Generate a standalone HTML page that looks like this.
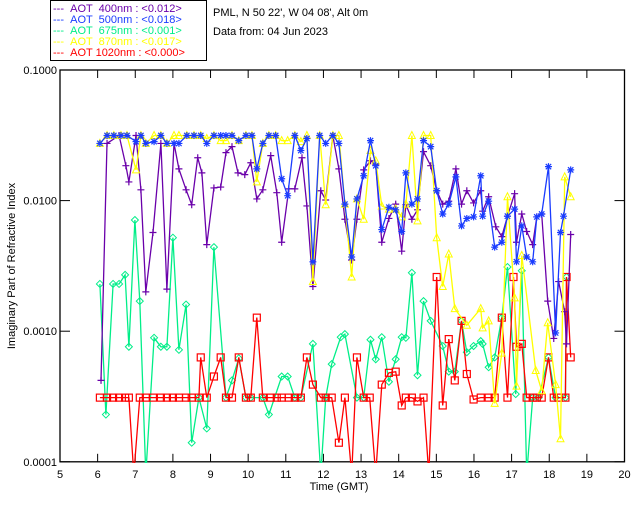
<!DOCTYPE html>
<html><head><meta charset="utf-8">
<style>
html,body{margin:0;padding:0;background:#fff;}
svg{display:block;font-family:"Liberation Sans",sans-serif;}
</style></head>
<body>
<svg id="chart" width="640" height="512" viewBox="0 0 640 512" xmlns="http://www.w3.org/2000/svg">
<rect x="0" y="0" width="640" height="512" fill="#fff"/>
<g>
<rect x="50.5" y="0.5" width="156" height="60" fill="none" stroke="#000"/>
<g font-size="11">
<text x="53" y="12" fill="#6a00aa">--- &#160;AOT &#160;400nm : &lt;0.012&gt;</text>
<text x="53" y="23" fill="#1a3cff">--- &#160;AOT &#160;500nm : &lt;0.018&gt;</text>
<text x="53" y="34" fill="#00ee88">--- &#160;AOT &#160;675nm : &lt;0.001&gt;</text>
<text x="53" y="45" fill="#ffff00">--- &#160;AOT &#160;870nm : &lt;0.017&gt;</text>
<text x="53" y="56" fill="#ff0000">--- &#160;AOT 1020nm : &lt;0.000&gt;</text>
</g></g>
<text x="213" y="16" font-size="11">PML, N 50 22', W 04 08', Alt 0m</text>
<text x="213" y="35" font-size="11">Data from: 04 Jun 2023</text>
<g id="axes"></g>
<g id="series" clip-path="url(#plotclip)"></g>
<defs><clipPath id="plotclip"><rect x="60" y="69" width="566" height="394"/></clipPath></defs>
<text x="339" y="490" font-size="11" text-anchor="middle">Time (GMT)</text>
<text transform="translate(15,266) rotate(-90)" font-size="11" text-anchor="middle">Imaginary Part of Refractive Index</text>
</svg>
<script>
const xTicks=[5,6,7,8,9,10,11,12,13,14,15,16,17,18,19,20];
const yTicks=[0.1,0.01,0.001,0.0001];
const yTickLabels=["0.1000","0.0100","0.0010","0.0001"];

const t500=[6.06,6.25,6.43,6.62,6.78,7.02,7.15,7.28,7.50,7.68,7.84,8.03,8.16,8.37,8.56,8.74,8.90,9.09,9.27,9.41,9.57,9.75,9.94,10.10,10.23,10.39,10.55,10.73,10.89,11.05,11.24,11.40,11.56,11.72,11.90,12.06,12.25,12.41,12.57,12.75,12.89,13.07,13.25,13.39,13.55,13.74,13.92,14.08,14.19,14.35,14.50,14.66,14.85,15.01,15.17,15.33,15.52,15.67,15.81,15.99,16.18,16.23,16.39,16.55,16.74,16.89,17.08,17.13,17.27,17.40,17.56,17.67,17.80,17.98,18.17,18.30,18.38,18.57];
const v500=[.0274,.0315,.0315,.0315,.0315,.0283,.0315,.0274,.0283,.0315,.0274,.0274,.0274,.0315,.0315,.0315,.0274,.0315,.0315,.0315,.0315,.0288,.0315,.0315,.0175,.0274,.0315,.0315,.0147,.0109,.0315,.0242,.0299,.0034,.0315,.0274,.0315,.0274,.0094,.0037,.0103,.0155,.0288,.0185,.0060,.0089,.0085,.0058,.0163,.0094,.0103,.0288,.0259,.0119,.0079,.0094,.0152,.0064,.0073,.0075,.0155,.0076,.0099,.0044,.0048,.0076,.0086,.0034,.0064,.0037,.0034,.0075,.0079,.0182,.00097,.0057,.0076,.0172];

const t870=[6.06,6.25,6.43,6.62,6.78,7.02,7.15,7.28,7.50,7.68,7.84,8.03,8.16,8.37,8.56,8.74,8.90,9.09,9.27,9.41,9.57,9.75,9.94,10.10,10.23,10.39,10.55,10.73,10.89,11.05,11.24,11.40,11.56,11.72,11.90,12.06,12.25,12.41,12.57,12.75,12.89,13.07,13.25,13.39,13.55,13.74,13.92,14.08,14.19,14.35,14.50,14.66,14.85,15.01,15.17,15.33,15.49,15.81,16.18,16.23,16.39,16.55,16.74,16.89,17.08,17.13,17.27,17.64,17.80,17.96,18.17,18.30,18.41,18.57];
const v870=[.0274,.0315,.0315,.0315,.0315,.0172,.0315,.0274,.0315,.0315,.0274,.0315,.0315,.0315,.0315,.0315,.0299,.0315,.0288,.0288,.0315,.0288,.0315,.0315,.0139,.0274,.0315,.0315,.0288,.0288,.0315,.0283,.0315,.0024,.0315,.0093,.0315,.0315,.0094,.0026,.0103,.0072,.0242,.0202,.0091,.0086,.0086,.0075,.0094,.0315,.0070,.0315,.0315,.0052,.0022,.0039,.00149,.00111,.00149,.00106,.00120,.00028,.00068,.0107,.0018,.00038,.0038,.00050,.00035,.00116,.00039,.00015,.0152,.0107];

const t400=[6.09,6.25,6.57,6.75,6.83,7.02,7.15,7.28,7.47,7.68,7.84,8.03,8.16,8.35,8.50,8.66,8.77,8.90,9.09,9.27,9.41,9.57,9.73,9.91,10.07,10.23,10.39,10.60,10.76,10.89,11.08,11.24,11.43,11.56,11.72,11.93,12.06,12.25,12.41,12.57,12.75,12.89,13.07,13.25,13.39,13.55,13.74,13.92,14.08,14.19,14.35,14.50,14.66,14.85,15.01,15.17,15.33,15.52,15.67,15.81,15.99,16.18,16.23,16.39,16.58,16.74,16.89,17.08,17.13,17.27,17.40,17.56,17.67,17.80,17.96,18.12,18.25,18.41,18.46,18.57];
const v400=[.00042,.0274,.0315,.0185,.0139,.0315,.0121,.0020,.0057,.0274,.0021,.0274,.0175,.0121,.0093,.0213,.0163,.0046,.0125,.0127,.0233,.0259,.0163,.0158,.0195,.0103,.0121,.0221,.0115,.0048,.0123,.0123,.0213,.0091,.0022,.0119,.0101,.0315,.0175,.0072,.0035,.0072,.0172,.0202,.0188,.0048,.0073,.0094,.0041,.0093,.0072,.0085,.0237,.0185,.0119,.0094,.0099,.0175,.0094,.0119,.0096,.0119,.0083,.0107,.0063,.0053,.0076,.0113,.0048,.0079,.0058,.0046,.0075,.0079,.0017,.00088,.0024,.00141,.00080,.0055];

const t675=[6.06,6.22,6.41,6.57,6.73,6.83,6.99,7.12,7.28,7.50,7.68,7.84,8.00,8.16,8.35,8.50,8.69,8.90,9.09,9.41,9.57,9.75,9.94,10.07,10.39,10.55,10.89,11.05,11.24,11.40,11.72,11.93,12.06,12.22,12.46,12.57,12.89,13.07,13.25,13.39,13.55,13.74,13.92,14.08,14.19,14.35,14.50,14.66,14.85,15.17,15.33,15.49,15.67,15.81,15.99,16.18,16.23,16.39,16.55,16.74,16.89,17.11,17.27,17.40,17.56,17.72,17.98,18.17,18.43,18.46];
const v675=[.0023,.00023,.0023,.0023,.0027,.00076,.0071,.0017,.00008,.00089,.00076,.00076,.0052,.00072,.0016,.00014,.00031,.00018,.0044,.00031,.00042,.00062,.00031,.00031,.00031,.00023,.00045,.00045,.00031,.00031,.00080,.00008,.00031,.00056,.00090,.00095,.00031,.00031,.00086,.00061,.00090,.00041,.00061,.00090,.00089,.0028,.00046,.0017,.0012,.00077,.00049,.00049,.0012,.00069,.00077,.00084,.00080,.00053,.00063,.00127,.0031,.00033,.0029,.00008,.00031,.00031,.00063,.00031,.00031,.0026];

const t1020=[6.06,6.25,6.41,6.57,6.73,6.83,6.96,7.12,7.28,7.47,7.68,7.84,8.00,8.16,8.35,8.50,8.69,8.74,8.90,9.09,9.27,9.41,9.57,9.75,9.94,10.07,10.23,10.39,10.60,10.76,10.89,11.08,11.24,11.40,11.56,11.72,11.93,12.06,12.22,12.41,12.57,12.75,12.89,13.07,13.23,13.39,13.55,13.74,13.92,14.08,14.19,14.35,14.50,14.66,14.80,15.01,15.17,15.33,15.49,15.67,15.81,15.99,16.18,16.39,16.55,16.74,16.89,17.05,17.13,17.27,17.40,17.56,17.67,17.80,17.98,18.12,18.25,18.43,18.46,18.57];
const v1020=[.00031,.00031,.00031,.00031,.00031,.00031,.00008,.00031,.00031,.00031,.00031,.00031,.00031,.00031,.00031,.00031,.00031,.00063,.00031,.00045,.00063,.00031,.00031,.00063,.00031,.00031,.00127,.00031,.00031,.00031,.00031,.00031,.00031,.00031,.00063,.00039,.00031,.00031,.00031,.00014,.00031,.00008,.00063,.00031,.00031,.00008,.00039,.00048,.00049,.00027,.00031,.00031,.00029,.00031,.00008,.0026,.00027,.00087,.00042,.0012,.00047,.00030,.00031,.00031,.00031,.00127,.00031,.0026,.00076,.00080,.00031,.00031,.00031,.00031,.00063,.00031,.00031,.00031,.0026,.00063];

const X0=60,X1=624.5,TMIN=5,TMAX=20,YTOP=70,DEC=130.6;
function xs(t){return X0+(t-TMIN)*(X1-X0)/(TMAX-TMIN);}
function ys(v){return YTOP+(-1-Math.log10(v))*DEC;}
const NS="http://www.w3.org/2000/svg";
function mk(tag,attrs,parent){const e=document.createElementNS(NS,tag);for(const k in attrs)e.setAttribute(k,attrs[k]);parent.appendChild(e);return e;}

const axes=document.getElementById('axes');
const frame=mk('rect',{x:X0,y:YTOP,width:X1-X0,height:ys(0.0001)-YTOP,fill:'none',stroke:'#000','stroke-width':1.3},axes);


const YB=ys(0.0001);
xTicks.forEach(t=>{
  const x=xs(t);
  mk('line',{x1:x,y1:YB,x2:x,y2:YB-8,stroke:'#000'},axes);
  mk('line',{x1:x,y1:YTOP,x2:x,y2:YTOP+8,stroke:'#000'},axes);
  const lb=mk('text',{x:x,y:YB+16,'font-size':11,'text-anchor':'middle'},axes);
  lb.textContent=t;
  
  
});
yTicks.forEach((v,i)=>{
  const y=ys(v);
  mk('line',{x1:X0,y1:y,x2:X0+10,y2:y,stroke:'#000'},axes);
  mk('line',{x1:X1,y1:y,x2:X1-10,y2:y,stroke:'#000'},axes);
  const lb=mk('text',{x:X0-3,y:y+4,'font-size':11,'text-anchor':'end'},axes);
  lb.textContent=yTickLabels[i];
  
  
});

const series=document.getElementById('series');
function marker(kind,x,y,col,g){
  if(kind==='plus'){return mk('path',{d:`M${x-3.5} ${y}H${x+3.5}M${x} ${y-3.5}V${y+3.5}`,stroke:col,'stroke-width':1.2,fill:'none'},g);}
  if(kind==='star'){return mk('path',{d:`M${x-3.5} ${y}H${x+3.5}M${x} ${y-3.5}V${y+3.5}M${x-2.7} ${y-2.7}L${x+2.7} ${y+2.7}M${x-2.7} ${y+2.7}L${x+2.7} ${y-2.7}`,stroke:col,'stroke-width':1.2,fill:'none'},g);}
  if(kind==='diamond'){return mk('path',{d:`M${x} ${y-3.5}L${x+3.5} ${y}L${x} ${y+3.5}L${x-3.5} ${y}Z`,stroke:col,'stroke-width':1,fill:'none'},g);}
  if(kind==='tri'){return mk('path',{d:`M${x} ${y-4}L${x+3.5} ${y+3}L${x-3.5} ${y+3}Z`,stroke:col,'stroke-width':1,fill:'none'},g);}
  return mk('rect',{x:x-3.5,y:y-3.5,width:7,height:7,stroke:col,'stroke-width':1.2,fill:'none'},g);
}
function drawSeries(name,ts,vs,col,kind){
  const g=mk('g',{},series);
  
  
  const pts=ts.map((t,i)=>xs(t).toFixed(1)+','+ys(vs[i]).toFixed(1)).join(' ');
  const pl=mk('polyline',{points:pts,fill:'none',stroke:col,'stroke-width':1.3},g);
  
  
  ts.forEach((t,i)=>{
    const m=marker(kind,xs(t),ys(vs[i]),col,g);
    
    
  });
}
drawSeries('series-675nm',t675,v675,'#00ee88','diamond');
drawSeries('series-1020nm',t1020,v1020,'#ff0000','square');
drawSeries('series-400nm',t400,v400,'#6a00aa','plus');
drawSeries('series-870nm',t870,v870,'#ffff00','tri');
drawSeries('series-500nm',t500,v500,'#1a3cff','star');
</script>
</body></html>
